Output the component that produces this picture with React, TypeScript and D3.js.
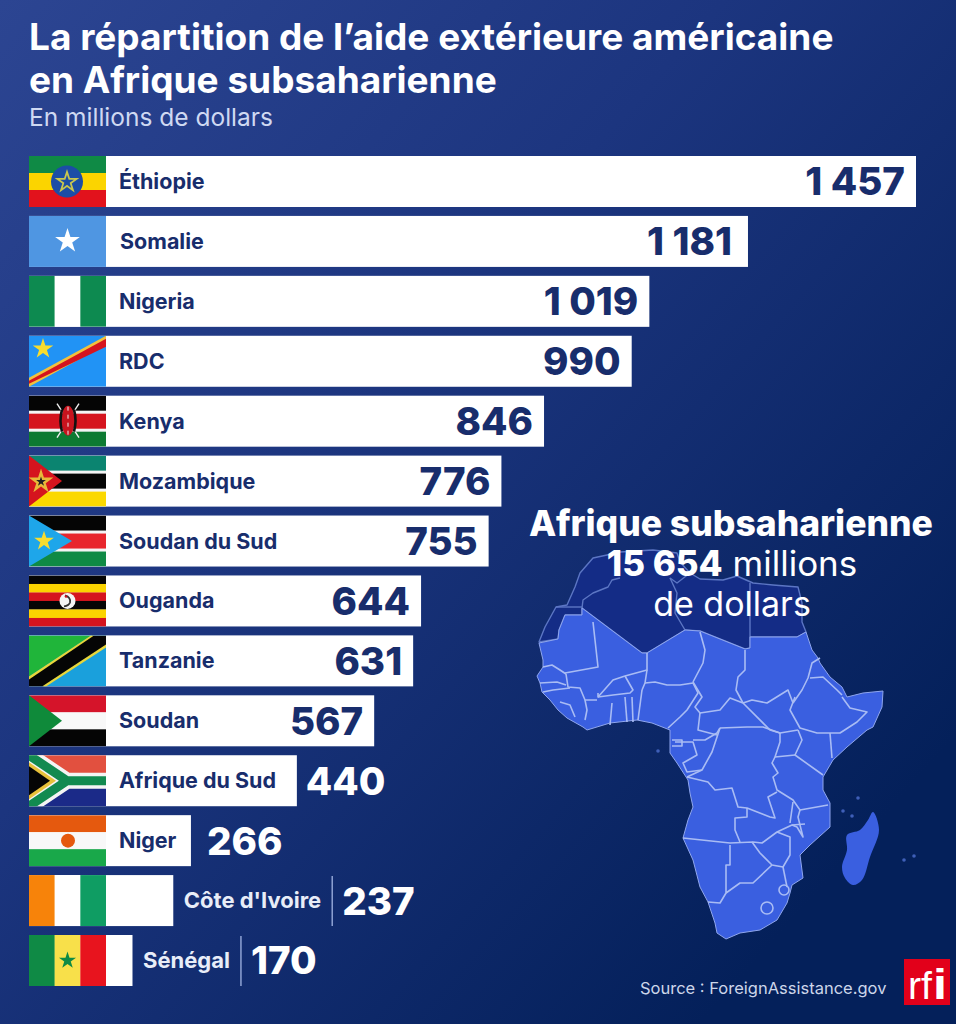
import React, { useEffect, useRef } from 'react';
import * as d3 from 'd3';

const countries = ['Éthiopie', 'Somalie', 'Nigeria', 'RDC', 'Kenya', 'Mozambique', 'Soudan du Sud', 'Ouganda', 'Tanzanie', 'Soudan', 'Afrique du Sud', 'Niger', "Côte d'Ivoire", 'Sénégal'];
const values = [1457, 1181, 1019, 990, 846, 776, 755, 644, 631, 567, 440, 266, 237, 170];

const titleLines = ["La répartition de l’aide extérieure américaine", 'en Afrique subsaharienne'];
const subtitle = 'En millions de dollars';
const source = 'Source : ForeignAssistance.gov';

type Pt = [number, number];

// map, in page pixels
const northAfrica: Pt[] = [[539, 642], [545, 627], [556, 607], [567, 605], [575, 587], [580, 573], [593, 558], [607, 555], [620, 552], [653, 550], [677, 553], [680, 562], [690, 573], [700, 579], [723, 580], [737, 576], [753, 583], [773, 585], [798, 587], [802, 603], [802, 622], [806, 632], [797, 637], [750, 637], [750, 648], [745, 649], [700, 631], [685, 630], [647, 653], [642, 653], [582, 608], [582, 615], [565, 615], [559, 630], [558, 639]];
const subSahara: Pt[] = [[539, 643], [543, 660], [543, 667], [537, 676], [540, 683], [542, 692], [550, 700], [558, 710], [567, 718], [583, 727], [587, 730], [610, 723], [637, 720], [652, 723], [670, 730], [670, 753], [677, 763], [688, 780], [690, 793], [693, 807], [688, 820], [683, 838], [693, 860], [700, 887], [708, 902], [715, 923], [717, 933], [726, 939], [740, 933], [760, 930], [777, 920], [787, 903], [790, 893], [792, 885], [803, 878], [800, 855], [810, 845], [830, 827], [830, 803], [823, 790], [823, 777], [833, 760], [847, 747], [867, 730], [873, 727], [882, 707], [883, 691], [863, 693], [847, 697], [842, 687], [830, 677], [820, 663], [818, 658], [812, 650], [806, 632], [797, 637], [750, 637], [750, 648], [745, 649], [700, 631], [685, 630], [647, 653], [642, 653], [582, 608], [582, 615], [565, 615], [559, 630], [558, 639]];
const madagascar: Pt[] = [[873, 812], [879, 830], [870, 857], [862, 880], [853, 885], [845, 878], [842, 867], [847, 850], [847, 835], [860, 830], [868, 820]];
const northBorders: Pt[][] = [
  [[556, 607], [582, 607]],
  [[582, 608], [583, 600], [593, 593], [608, 587], [612, 580], [620, 578]],
  [[670, 578], [677, 593], [675, 613], [685, 630]],
  [[670, 578], [677, 583], [690, 573]],
  [[750, 583], [750, 637]],
];
const borders: Pt[][] = [
  [[593, 622], [598, 667], [565, 673]],
  [[543, 667], [552, 665], [560, 670], [566, 674]],
  [[647, 653], [647, 670], [625, 676], [613, 680], [598, 697], [598, 693]],
  [[566, 674], [568, 687], [580, 688], [585, 700], [597, 700]],
  [[540, 683], [557, 682], [566, 685]],
  [[543, 692], [553, 690], [570, 688]],
  [[560, 702], [570, 705], [575, 717]],
  [[585, 720], [587, 710], [585, 700]],
  [[612, 703], [610, 725]],
  [[598, 697], [613, 695], [630, 693], [633, 690], [625, 676]],
  [[625, 697], [627, 722]],
  [[632, 697], [633, 722]],
  [[642, 690], [638, 720]],
  [[647, 670], [645, 683], [642, 690]],
  [[645, 683], [655, 682], [667, 685], [680, 685], [693, 683]],
  [[700, 632], [705, 650], [703, 663], [693, 682]],
  [[693, 683], [698, 693], [687, 710], [680, 717], [668, 728]],
  [[745, 650], [745, 670], [738, 677], [736, 690], [743, 703]],
  [[693, 682], [702, 697], [695, 707], [700, 713], [720, 710], [730, 698], [743, 703]],
  [[743, 703], [752, 700], [767, 703], [788, 690], [793, 703]],
  [[793, 703], [802, 690], [808, 678], [812, 663], [820, 658]],
  [[810, 678], [823, 677], [837, 690], [842, 695]],
  [[842, 697], [850, 708], [867, 712], [857, 722], [840, 733], [832, 733], [817, 733], [800, 728], [790, 710], [795, 697]],
  [[743, 703], [770, 730], [780, 733], [798, 730]],
  [[798, 730], [802, 740], [795, 755], [823, 775]],
  [[830, 733], [832, 758]],
  [[780, 733], [780, 742], [775, 757], [795, 755]],
  [[775, 757], [772, 763], [778, 773], [773, 777], [777, 790], [793, 800], [800, 810], [828, 805]],
  [[720, 728], [747, 727], [763, 727], [780, 733]],
  [[720, 728], [712, 752], [702, 770], [687, 777]],
  [[687, 777], [708, 782], [715, 790], [732, 788], [738, 807], [747, 808], [770, 817], [775, 818], [768, 797], [777, 792]],
  [[747, 808], [747, 817], [735, 818], [735, 830], [740, 842]],
  [[683, 838], [730, 843], [753, 842], [762, 843], [777, 832], [792, 825], [805, 824]],
  [[790, 823], [793, 802]],
  [[800, 810], [798, 817], [803, 837], [797, 827], [792, 825]],
  [[777, 832], [790, 837], [790, 855], [783, 867], [772, 865], [760, 853], [752, 842]],
  [[730, 845], [730, 865], [726, 865], [726, 893], [740, 883], [753, 883], [772, 865]],
  [[708, 902], [720, 903], [726, 893]],
  [[783, 867], [787, 887]],
  [[675, 742], [693, 742], [697, 755], [683, 763], [687, 772], [702, 770]],
  [[672, 740], [682, 740], [682, 746], [672, 746]],
  [[693, 740], [705, 740], [717, 733], [720, 728]],
  [[700, 713], [698, 730], [717, 735]],
];
const lakes: [number, number, number][] = [[784, 890, 5], [767, 908, 6]];
const islands: Pt[] = [[904, 860], [914, 856], [843, 811], [852, 816], [858, 798], [658, 751]];

type G = d3.Selection<SVGGElement, unknown, null, undefined>;

const FW = 77;
const FH = 51;

const rect = (g: G, x: number, y: number, w: number, h: number, fill: string) =>
  g.append('rect').attr('x', x).attr('y', y).attr('width', w).attr('height', h).attr('fill', fill);
const poly = (g: G, pts: string, fill: string) => g.append('polygon').attr('points', pts).attr('fill', fill);
const star = (g: G, x: number, y: number, size: number, fill: string) =>
  g.append('path').attr('d', d3.symbol(d3.symbolStar, size)()).attr('transform', `translate(${x},${y})`).attr('fill', fill);
const hStripes = (g: G, colors: string[]) =>
  colors.forEach((c, i) => rect(g, 0, (i * FH) / colors.length, FW, FH / colors.length + 0.2, c));
const vStripes = (g: G, colors: string[]) =>
  colors.forEach((c, i) => rect(g, (i * FW) / colors.length, 0, FW / colors.length + 0.2, FH, c));
const whiteStripedFlag = (g: G, top: string, mid: string, bottom: string) => {
  rect(g, 0, 0, FW, FH, '#f4f4f4');
  rect(g, 0, 0, FW, 15, top);
  rect(g, 0, 18, FW, 15, mid);
  rect(g, 0, 36, FW, 15, bottom);
};

const flags: Record<string, (g: G) => void> = {
  'Éthiopie': g => {
    hStripes(g, ['#0f8a45', '#fbd400', '#e2121c']);
    g.append('circle').attr('cx', 38).attr('cy', 25.5).attr('r', 16).attr('fill', '#1c4da6');
    star(g, 38, 26, 190, '#c9c64e');
    star(g, 38, 26, 60, '#1c4da6');
  },
  'Somalie': g => {
    rect(g, 0, 0, FW, FH, '#4f96e2');
    star(g, 38.5, 25, 190, '#fff');
  },
  'Nigeria': g => {
    vStripes(g, ['#0d8a50', '#fff', '#0d8a50']);
  },
  'RDC': g => {
    rect(g, 0, 0, FW, FH, '#2193f5');
    poly(g, '0,42 77,0 77,9 0,51', '#f2c23c');
    poly(g, '0,45 77,3 77,11 0,48', '#d5141e');
    star(g, 14, 13, 130, '#f7dc2e');
  },
  'Kenya': g => {
    rect(g, 0, 0, FW, FH, '#f4f4f4');
    rect(g, 0, 0, FW, 15, '#050505');
    rect(g, 0, 18, FW, 15, '#d5141e');
    rect(g, 0, 36, FW, 15, '#0d7a32');
    g.append('path').attr('d', 'M28,8L50,42M50,8L28,42').attr('stroke', '#eee').attr('stroke-width', 1.4);
    g.append('ellipse').attr('cx', 39).attr('cy', 25).attr('rx', 6.5).attr('ry', 15).attr('fill', '#c8141e');
    g.append('path').attr('d', 'M33,14Q30,25 33,36M45,14Q48,25 45,36').attr('stroke', '#111').attr('stroke-width', 2.6).attr('fill', 'none');
    g.append('path').attr('d', 'M39,11V39').attr('stroke', '#eee').attr('stroke-width', 1).attr('stroke-dasharray', '4 4');
  },
  'Mozambique': g => {
    rect(g, 0, 0, FW, FH, '#f4f4f4');
    rect(g, 0, 0, FW, 15, '#0b8470');
    rect(g, 0, 18, FW, 15, '#050505');
    rect(g, 0, 36, FW, 15, '#fbd800');
    poly(g, '0,0 33,25.5 0,51', '#d5141e');
    star(g, 12, 26, 190, '#e8b93a');
    star(g, 12, 26, 30, '#222');
  },
  'Soudan du Sud': g => {
    whiteStripedFlag(g, '#050505', '#e8262d', '#0f8a45');
    poly(g, '0,0 43,25.5 0,51', '#1ea6ea');
    star(g, 15, 25.5, 120, '#f7dc2e');
  },
  'Ouganda': g => {
    hStripes(g, ['#050505', '#fbd400', '#d5141e', '#050505', '#fbd400', '#d5141e']);
    g.append('circle').attr('cx', 38.5).attr('cy', 25.5).attr('r', 8).attr('fill', '#f4f4f4');
    g.append('path').attr('d', 'M36,20Q42,22 41,27Q40,30 35,31').attr('stroke', '#333').attr('stroke-width', 1.8).attr('fill', 'none');
    g.append('circle').attr('cx', 37).attr('cy', 21).attr('r', 1.3).attr('fill', '#c8141e');
  },
  'Tanzanie': g => {
    rect(g, 0, 0, FW, FH, '#1aa0dc');
    poly(g, '0,0 62,0 0,41', '#20b53a');
    poly(g, '0,43 63,0 77,0 77,10 14,51 0,51', '#050505');
    poly(g, '0,41 62,0 65,0 0,44', '#e8d63a');
    poly(g, '13,51 77,9 77,12 17,51', '#e8d63a');
  },
  'Soudan': g => {
    hStripes(g, ['#d5142a', '#f8f8f8', '#050505']);
    poly(g, '0,0 33,25.5 0,51', '#0f8a3a');
  },
  'Afrique du Sud': g => {
    rect(g, 0, 0, FW, 25.5, '#e2503f');
    rect(g, 0, 25.5, FW, 25.5, '#1b2a88');
    g.append('path').attr('d', 'M0,0L38,25.5L0,51M38,25.5H77').attr('fill', 'none').attr('stroke', '#f4f4f4').attr('stroke-width', 16);
    g.append('path').attr('d', 'M0,0L38,25.5L0,51M38,25.5H77').attr('fill', 'none').attr('stroke', '#128a50').attr('stroke-width', 9);
    poly(g, '0,7 27,25.5 0,44', '#e8c13a');
    poly(g, '0,11 21,25.5 0,40', '#050505');
  },
  'Niger': g => {
    hStripes(g, ['#e5590e', '#f8f8f8', '#19a84a']);
    g.append('circle').attr('cx', 39).attr('cy', 25.5).attr('r', 7).attr('fill', '#e5590e');
  },
  "Côte d'Ivoire": g => {
    vStripes(g, ['#f7830a', '#fff', '#0f9d63']);
  },
  'Sénégal': g => {
    vStripes(g, ['#0f8a45', '#f8e04a', '#e8141e']);
    star(g, 38.5, 25.5, 90, '#0f8a45');
  },
};

const FONT = 'Inter, "Liberation Sans", sans-serif';
const NAVY = '#182d6c';

export default function App() {
  const svgRef = useRef<SVGSVGElement>(null);

  useEffect(() => {
    if (!svgRef.current) return;
    const width = 956;
    const height = 1024;
    const svg = d3.select(svgRef.current).attr('viewBox', [0, 0, width, height].join(' '));
    svg.selectAll('*').remove();

    const defs = svg.append('defs');
    const grad = defs.append('linearGradient').attr('id', 'bg')
      .attr('gradientUnits', 'userSpaceOnUse')
      .attr('x1', 0).attr('y1', 0).attr('x2', 900).attr('y2', 800);
    grad.append('stop').attr('offset', 0).attr('stop-color', '#2c4592');
    grad.append('stop').attr('offset', 0.45).attr('stop-color', '#1c357f');
    grad.append('stop').attr('offset', 1).attr('stop-color', '#04205a');
    defs.append('clipPath').attr('id', 'flag-clip').append('rect').attr('width', FW).attr('height', FH);
    svg.append('rect').attr('width', width).attr('height', height).attr('fill', 'url(#bg)');

    const x = d3.scaleLinear().domain([0, 1457]).range([29, 916]);
    const y = d3.scaleBand<string>().domain(countries).range([156, 986]).paddingInner(0.149);
    const fmt = d3.formatLocale({ thousands: ' ', grouping: [3], decimal: ',', currency: ['', ''] }).format(',');

    // titles
    titleLines.forEach((line, i) => {
      svg.append('text').attr('x', 29).attr('y', 50 + i * 43).text(line)
        .attr('font-family', FONT).attr('font-size', 37).attr('font-weight', 700).attr('fill', '#fff');
    });
    svg.append('text').attr('x', 29).attr('y', 126).text(subtitle)
      .attr('font-family', FONT).attr('font-size', 24.5).attr('fill', '#cfd9f2');

    // map
    const line = d3.line();
    const smooth = d3.line().curve(d3.curveCatmullRomClosed.alpha(0.5));
    const mapG = svg.append('g').attr('stroke-linejoin', 'round');
    mapG.append('path').attr('d', line(northAfrica) + 'Z').attr('fill', '#142c86').attr('stroke', '#5c76c4').attr('stroke-width', 1.4);
    northBorders.forEach(b => mapG.append('path').attr('d', line(b)).attr('fill', 'none').attr('stroke', '#5c76c4').attr('stroke-width', 1.4));
    mapG.append('path').attr('d', line(subSahara) + 'Z').attr('fill', '#3a5fe0').attr('stroke', '#8fa6ee').attr('stroke-width', 1);
    mapG.append('path').attr('d', smooth(madagascar)).attr('fill', '#3a5fe0');
    borders.forEach(b => mapG.append('path').attr('d', line(b)).attr('fill', 'none').attr('stroke', '#a9bcf4').attr('stroke-width', 1.6));
    lakes.forEach(([cx, cy, r]) => mapG.append('circle').attr('cx', cx).attr('cy', cy).attr('r', r).attr('fill', 'none').attr('stroke', '#a9bcf4').attr('stroke-width', 1.6));
    islands.forEach(([cx, cy]) => mapG.append('circle').attr('cx', cx).attr('cy', cy).attr('r', 1.8).attr('fill', '#3f5fb8'));

    // map caption
    const caption = svg.append('g').attr('font-family', FONT).attr('fill', '#fff').attr('text-anchor', 'middle');
    caption.append('text').attr('x', 731).attr('y', 536).attr('font-size', 35.5).attr('font-weight', 800).text('Afrique subsaharienne');
    const t2 = caption.append('text').attr('x', 732).attr('y', 576).attr('font-size', 35);
    t2.append('tspan').attr('font-weight', 800).text('15 654');
    t2.append('tspan').text(' millions');
    caption.append('text').attr('x', 732).attr('y', 616).attr('font-size', 34).text('de dollars');

    // bars
    const rows = svg.append('g').selectAll('g').data(countries).enter().append('g')
      .attr('transform', d => `translate(0,${y(d)})`);
    const bw = y.bandwidth();

    rows.append('rect').attr('x', x(0)).attr('y', 0)
      .attr('width', (_, i) => x(values[i]) - x(0)).attr('height', bw).attr('fill', '#fff');

    rows.each(function (d) {
      const g = d3.select(this).append('g').attr('transform', `translate(${x(0)},0)`)
        .attr('clip-path', 'url(#flag-clip)') as unknown as G;
      flags[d](g);
    });

    rows.each(function (d, i) {
      const row = d3.select(this);
      const v = values[i];
      const end = x(v);
      const narrow = v < 250;
      const label = row.append('text').attr('y', bw / 2 + 7.5).text(d)
        .attr('font-family', FONT).attr('font-size', narrow ? 22 : 21.5).attr('font-weight', 700)
        .attr('x', narrow ? end + 10.5 : d === 'Somalie' ? 120 : 119)
        .attr('fill', narrow ? '#e8edf8' : NAVY);

      const val = row.append('text').attr('y', bw / 2 + 14).text(fmt(v))
        .attr('font-family', FONT).attr('font-size', 38.5).attr('font-weight', 800);

      if (narrow) {
        const labelEnd = end + 10.5 + (label.node() as SVGTextElement).getComputedTextLength();
        row.append('line').attr('x1', labelEnd + 11).attr('x2', labelEnd + 11).attr('y1', 1).attr('y2', bw)
          .attr('stroke', '#8fa3d4').attr('stroke-width', 1.5);
        val.attr('x', labelEnd + 21).attr('fill', '#fff');
      } else if (v < 500) {
        val.attr('x', end + (v === 440 ? 9 : 16)).attr('fill', '#fff');
      } else {
        val.attr('x', end - (v === 1181 ? 16 : 11)).attr('text-anchor', 'end').attr('fill', NAVY);
      }
    });

    // source + logo
    svg.append('text').attr('x', 640).attr('y', 994).text(source)
      .attr('font-family', FONT).attr('font-size', 16.5).attr('fill', '#cdd6ea');
    const logo = svg.append('g').attr('transform', 'translate(904,959)');
    logo.append('rect').attr('width', 46).attr('height', 46).attr('fill', '#e2001a');
    logo.append('text').attr('x', 4).attr('y', 40).text('rf').attr('font-family', '"Liberation Sans"')
      .attr('font-size', 38).attr('fill', '#fff').attr('textLength', 24).attr('lengthAdjust', 'spacingAndGlyphs');
    logo.append('text').attr('x', 29).attr('y', 40).text('i').attr('font-family', '"Liberation Sans"')
      .attr('font-size', 42).attr('font-weight', 700).attr('fill', '#fff').attr('textLength', 14).attr('lengthAdjust', 'spacingAndGlyphs');
  }, []);

  return (
    <svg ref={svgRef} width={956} height={1024} style={{ position: 'absolute', left: 0, top: 0, display: 'block' }} />
  );
}
